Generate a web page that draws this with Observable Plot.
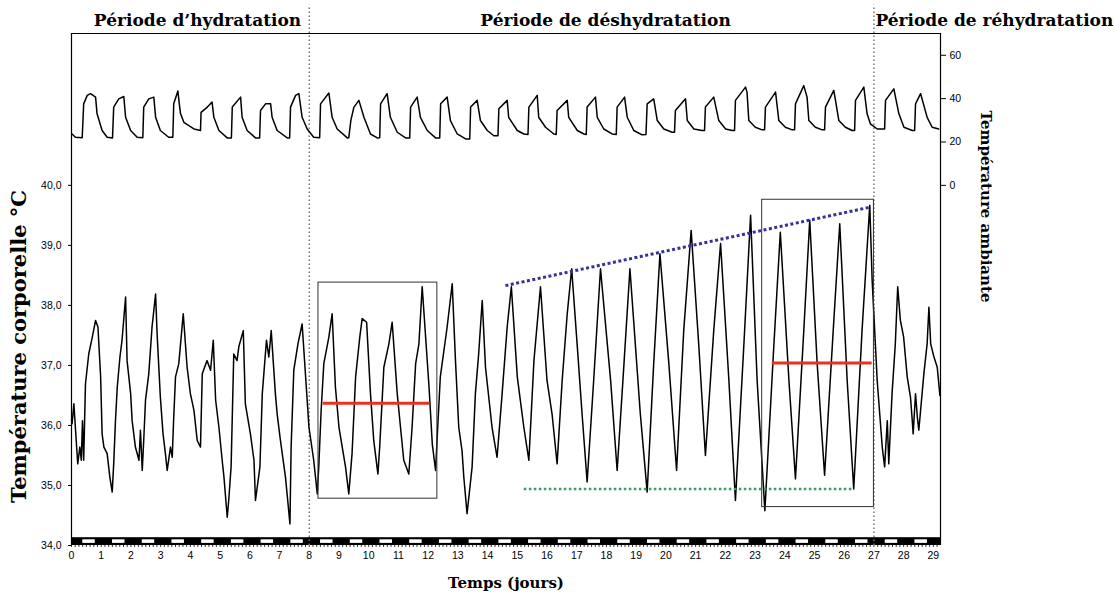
<!DOCTYPE html>
<html><head><meta charset="utf-8">
<script src="https://cdn.jsdelivr.net/npm/d3@7"></script>
<script src="https://cdn.jsdelivr.net/npm/@observablehq/plot@0.6"></script>
<style>body{margin:0;background:#fff} #chart svg{display:block}</style>
</head><body><div id="chart"></div>
<script>
// ---- tick labels ----
const dayTicks = d3.range(0, 30);
const bodyTicks = [34, 35, 36, 37, 38, 39, 40];
const ambientTicks = [0, 20, 40, 60];
const minorTicks = d3.range(0, 29.25, 0.125);

// ---- periods ----
const periodBounds = [8, 27];
const periodNames = ["Période d’hydratation", "Période de déshydratation", "Période de réhydratation"];
const periodCenters = [4.24, 17.97];
const rehydrationStart = 27.05;

// ---- light/dark cycle (light phase inside each day) ----
const cycleDays = d3.range(0, 30);
const lightOn = 0.38, lightOff = 0.8;

// ---- body temperature (day, °C) ----
const bodyTemp = [[0.0,36.1],[0.02,36.03],[0.08,36.36],[0.13,35.97],[0.21,35.36],[0.28,35.64],[0.33,35.42],[0.37,36.08],[0.41,35.42],[0.47,36.69],[0.58,37.19],[0.70,37.47],[0.81,37.75],[0.89,37.64],[0.92,37.36],[0.98,36.81],[1.03,35.86],[1.09,35.64],[1.20,35.53],[1.29,35.14],[1.37,34.89],[1.42,35.36],[1.48,36.08],[1.54,36.64],[1.63,37.14],[1.70,37.42],[1.82,38.14],[1.87,37.08],[1.99,36.53],[2.04,36.08],[2.15,35.64],[2.27,35.42],[2.32,35.92],[2.38,35.25],[2.43,35.75],[2.49,36.42],[2.60,36.86],[2.71,37.64],[2.83,38.19],[2.88,37.53],[2.99,36.47],[3.08,35.86],[3.16,35.53],[3.22,35.25],[3.33,35.64],[3.39,35.47],[3.44,36.14],[3.50,36.81],[3.61,37.03],[3.76,37.86],[3.89,36.97],[4.00,36.53],[4.12,36.25],[4.23,35.75],[4.34,35.64],[4.40,36.86],[4.56,37.08],[4.68,36.92],[4.77,37.42],[4.85,36.42],[4.96,35.97],[5.07,35.42],[5.13,35.14],[5.24,34.47],[5.29,34.75],[5.37,35.31],[5.46,37.19],[5.57,37.08],[5.63,37.31],[5.78,37.58],[5.85,36.36],[6.02,35.86],[6.14,35.42],[6.19,34.75],[6.34,35.31],[6.42,36.53],[6.56,37.42],[6.64,37.14],[6.72,37.58],[6.86,36.53],[6.92,36.19],[7.03,35.75],[7.20,35.14],[7.35,34.36],[7.39,35.64],[7.48,36.92],[7.62,37.36],[7.76,37.69],[7.93,36.42],[7.99,35.97],[8.15,35.42],[8.27,34.86],[8.32,35.31],[8.40,36.25],[8.49,37.03],[8.66,37.47],[8.77,37.86],[8.88,36.64],[9.00,35.97],[9.11,35.64],[9.22,35.31],[9.33,34.86],[9.44,35.53],[9.56,36.81],[9.70,37.47],[9.78,37.78],[9.93,37.72],[10.06,36.53],[10.17,35.75],[10.31,35.19],[10.37,35.64],[10.51,36.97],[10.68,37.36],[10.79,37.72],[10.96,36.53],[11.07,35.97],[11.18,35.42],[11.35,35.19],[11.46,35.97],[11.58,37.03],[11.69,37.36],[11.80,38.31],[12.03,36.64],[12.14,35.69],[12.25,35.25],[12.30,35.75],[12.41,36.81],[12.64,37.64],[12.81,38.36],[12.92,37.08],[13.03,35.97],[13.14,35.58],[13.20,35.14],[13.31,34.53],[13.48,35.31],[13.59,36.53],[13.70,37.19],[13.82,38.08],[13.93,36.97],[14.15,35.97],[14.32,35.47],[14.49,36.53],[14.66,37.64],[14.80,38.31],[15.00,36.81],[15.22,35.97],[15.39,35.42],[15.56,37.08],[15.78,38.31],[16.00,36.75],[16.17,36.19],[16.34,35.36],[16.51,36.75],[16.68,37.86],[16.83,38.61],[17.02,37.31],[17.18,36.19],[17.35,35.06],[17.57,36.75],[17.80,38.61],[18.14,36.75],[18.36,35.25],[18.59,37.03],[18.79,38.61],[19.14,36.19],[19.37,34.89],[19.59,37.03],[19.80,38.86],[20.10,37.03],[20.36,35.25],[20.60,37.58],[20.85,39.25],[21.11,37.31],[21.33,35.5],[21.61,37.58],[21.84,39.03],[22.12,36.75],[22.34,34.75],[22.62,37.31],[22.85,39.5],[23.07,36.75],[23.33,34.58],[23.63,37.31],[23.85,39.22],[24.14,36.75],[24.36,35.11],[24.64,37.58],[24.84,39.42],[25.09,37.03],[25.34,35.17],[25.63,37.58],[25.85,39.36],[26.10,36.75],[26.32,34.94],[26.60,37.58],[26.86,39.67],[26.94,38.42],[27.11,36.75],[27.28,35.64],[27.36,35.31],[27.45,36.08],[27.50,35.36],[27.61,36.53],[27.72,37.36],[27.80,38.31],[27.89,37.75],[28.00,37.47],[28.12,36.81],[28.23,36.47],[28.29,36.08],[28.32,35.86],[28.40,36.53],[28.46,36.14],[28.51,35.92],[28.57,36.25],[28.68,36.86],[28.79,37.36],[28.85,37.97],[28.91,37.36],[29.02,37.14],[29.13,36.97],[29.22,36.5]];

// ---- ambient temperature (day, °C) ----
const ambientTemp = [[0.02,23.7],[0.13,22.2],[0.36,22.0],[0.41,37.6],[0.53,41.5],[0.64,42.3],[0.81,40.7],[0.86,33.0],[1.03,25.3],[1.20,22.2],[1.38,21.9],[1.42,36.1],[1.59,39.9],[1.76,41.0],[1.82,31.4],[1.99,25.3],[2.21,22.2],[2.40,22.0],[2.43,36.1],[2.60,39.9],[2.77,40.7],[2.83,31.4],[2.99,25.3],[3.27,22.2],[3.41,22.2],[3.44,37.6],[3.58,43.5],[3.64,36.1],[3.67,33.0],[3.78,29.1],[4.12,26.0],[4.34,25.3],[4.36,33.7],[4.57,36.1],[4.73,38.4],[4.79,31.4],[4.96,25.3],[5.24,21.9],[5.38,21.9],[5.41,36.1],[5.69,40.7],[5.74,31.4],[5.91,25.3],[6.19,21.9],[6.33,21.9],[6.36,34.5],[6.53,37.6],[6.70,37.6],[6.75,31.4],[6.92,25.3],[7.26,21.9],[7.34,21.9],[7.37,36.1],[7.54,41.5],[7.65,42.3],[7.76,31.4],[7.93,26.0],[8.15,22.2],[8.35,22.0],[8.38,37.6],[8.66,42.6],[8.77,31.4],[8.94,26.0],[9.28,21.9],[9.33,22.0],[9.40,30.0],[9.50,36.0],[9.67,39.2],[9.84,31.4],[10.06,23.7],[10.29,21.9],[10.37,22.0],[10.40,37.6],[10.62,42.3],[10.73,31.4],[10.96,24.5],[11.24,21.9],[11.38,21.9],[11.41,36.1],[11.63,40.7],[11.74,31.4],[11.97,25.3],[12.25,21.9],[12.39,21.9],[12.42,37.6],[12.64,40.7],[12.75,29.9],[12.98,23.7],[13.26,21.4],[13.40,21.4],[13.43,36.1],[13.65,39.2],[13.76,29.9],[13.99,25.3],[14.21,22.9],[14.35,22.9],[14.38,35.3],[14.66,39.2],[14.71,31.4],[15.00,25.3],[15.22,23.7],[15.36,23.5],[15.39,36.1],[15.67,41.5],[15.72,31.4],[15.95,26.8],[16.23,23.7],[16.31,23.5],[16.34,34.5],[16.68,39.2],[16.73,31.4],[17.02,25.3],[17.24,23.7],[17.32,23.5],[17.35,36.1],[17.63,40.7],[17.69,31.4],[17.91,26.0],[18.19,23.7],[18.33,23.5],[18.36,36.1],[18.61,40.7],[18.70,31.4],[18.92,25.3],[19.20,23.3],[19.33,23.5],[19.37,37.6],[19.59,39.9],[19.71,29.9],[19.93,26.0],[20.21,24.5],[20.29,24.5],[20.32,34.5],[20.66,39.9],[20.72,29.9],[20.94,26.0],[21.22,25.3],[21.30,25.3],[21.33,36.1],[21.61,40.7],[21.78,29.9],[22.01,26.0],[22.23,25.3],[22.31,25.3],[22.34,39.2],[22.68,45.3],[22.73,43.0],[22.79,29.9],[23.01,26.8],[23.24,25.6],[23.32,25.6],[23.35,36.1],[23.69,43.0],[23.80,29.9],[24.02,26.8],[24.25,25.6],[24.33,25.6],[24.36,37.6],[24.64,46.0],[24.75,40.7],[24.81,29.9],[25.03,26.8],[25.26,25.6],[25.34,25.6],[25.37,36.1],[25.65,43.8],[25.82,29.9],[26.04,26.8],[26.27,25.3],[26.35,25.3],[26.38,39.2],[26.66,45.3],[26.77,33.0],[26.88,28.4],[27.11,26.0],[27.36,26.0],[27.39,39.2],[27.67,44.5],[27.84,33.0],[28.01,26.8],[28.29,25.3],[28.37,25.3],[28.40,37.6],[28.57,42.3],[28.79,31.4],[28.96,26.8],[29.18,26.0]];

// ---- annotations ----
const zoomBoxes = [
  {x1: 8.31, x2: 12.31, y1: 34.78, y2: 38.38},
  {x1: 23.24, x2: 27.0, y1: 34.64, y2: 39.76}
];
const meanLines = [
  {x1: 8.47, x2: 12.06, y: 36.37},
  {x1: 23.58, x2: 26.94, y: 37.04}
];
const peakTrend = [[14.6, 38.33], [26.9, 39.64]];
const troughTrend = [[15.22, 34.94], [26.27, 34.94]];

// ---- scales ----
const xMax = 29.24, yMin = 34, yMax = 42.53;
// right axis: ambient 0 °C sits at body 40 °C, ambient 60 °C at body 42.167 °C
const ambBase = 40, ambPerUnit = 2.167 / 60;
const ambToBody = a => ambBase + a * ambPerUnit;
const bodyToAmb = b => (b - ambBase) / ambPerUnit;

const serif = "DejaVu Serif";
const sans = "Liberation Sans";

const chart = Plot.plot({
  width: 1115, height: 598,
  marginLeft: 71, marginRight: 175, marginTop: 33, marginBottom: 53,
  x: {domain: [0, xMax], axis: null},
  y: {domain: [yMin, yMax], axis: null},
  style: {background: "white", color: "black"},
  marks: [
    // light/dark bar
    Plot.rect([0], {x1: 0, x2: xMax, y1: yMin, y2: 34.13, fill: "black"}),
    Plot.rect(cycleDays.filter(d => d + lightOn < xMax), {x1: d => d + lightOn, x2: d => Math.min(d + lightOff, xMax), y1: 34.035, y2: 34.095, fill: "white"}),
    // frame
    Plot.ruleX([0, xMax], {y1: yMin, y2: yMax, stroke: "black", strokeWidth: 1.2}),
    Plot.ruleY([yMax], {x1: 0, x2: xMax, stroke: "black", strokeWidth: 1.2}),
    // period separators
    Plot.ruleX(periodBounds, {y1: yMin, y2: 43.0, stroke: "#777", strokeWidth: 1.5, strokeDasharray: "1.5,2.5"}),
    // axes
    Plot.axisY(bodyTicks, {anchor: "left", tickSize: 3, tickPadding: 7, tickFormat: d => d.toFixed(1).replace(".", ","), fontSize: 10.5, fontFamily: sans, label: null}),
    Plot.axisY(ambientTicks.map(ambToBody), {anchor: "right", tickSize: 5, tickPadding: 4, tickFormat: v => Math.round(bodyToAmb(v)), fontSize: 10.5, fontFamily: sans, label: null}),
    Plot.axisX(dayTicks, {anchor: "bottom", tickSize: 0, tickPadding: 6, fontSize: 10.5, fontFamily: sans, label: null}),
    Plot.axisX(minorTicks, {anchor: "bottom", tickSize: 2, tickFormat: () => "", label: null, strokeWidth: 0.8}),
    // traces
    Plot.line(ambientTemp, {x: d => d[0], y: d => ambToBody(d[1]), stroke: "black", strokeWidth: 1.5}),
    Plot.line(bodyTemp, {x: d => d[0], y: d => d[1], stroke: "black", strokeWidth: 1.5}),
    // annotations
    Plot.rect(zoomBoxes, {x1: "x1", x2: "x2", y1: "y1", y2: "y2", fill: "none", stroke: "#333", strokeWidth: 1}),
    Plot.ruleY(meanLines, {y: "y", x1: "x1", x2: "x2", stroke: "#e8321f", strokeWidth: 3}),
    Plot.line(peakTrend, {x: d => d[0], y: d => d[1], stroke: "#35309a", strokeWidth: 3, strokeDasharray: "3,2.5", strokeLinecap: "butt"}),
    Plot.line(troughTrend, {x: d => d[0], y: d => d[1], stroke: "#3c9a6b", strokeWidth: 2.5, strokeDasharray: "2.5,2.5", strokeLinecap: "butt"}),
    // period titles
    Plot.text(periodCenters, {x: d => d, text: (d, i) => periodNames[i], frameAnchor: "top", lineAnchor: "middle", dy: -13, fontFamily: serif, fontWeight: "bold", fontSize: 17, fill: "black"}),
    Plot.text([rehydrationStart], {x: d => d, text: () => periodNames[2], frameAnchor: "top", lineAnchor: "middle", dy: -13, textAnchor: "start", fontFamily: serif, fontWeight: "bold", fontSize: 17, fill: "black"}),
    // axis titles
    Plot.text(["Température corporelle °C"], {frameAnchor: "left", textAnchor: "middle", lineAnchor: "middle", dx: -52, dy: 57, rotate: -90, fontFamily: serif, fontWeight: "bold", fontSize: 21, fill: "black"}),
    Plot.text(["Température ambiante"], {frameAnchor: "right", textAnchor: "middle", lineAnchor: "middle", dx: 45, dy: -83, rotate: 90, fontFamily: serif, fontWeight: "bold", fontSize: 15, fill: "black"}),
    Plot.text(["Temps (jours)"], {frameAnchor: "bottom", textAnchor: "middle", lineAnchor: "middle", dy: 38, fontFamily: serif, fontWeight: "bold", fontSize: 15, fill: "black"})
  ]
});
document.getElementById("chart").append(chart);
</script>
</body></html>
